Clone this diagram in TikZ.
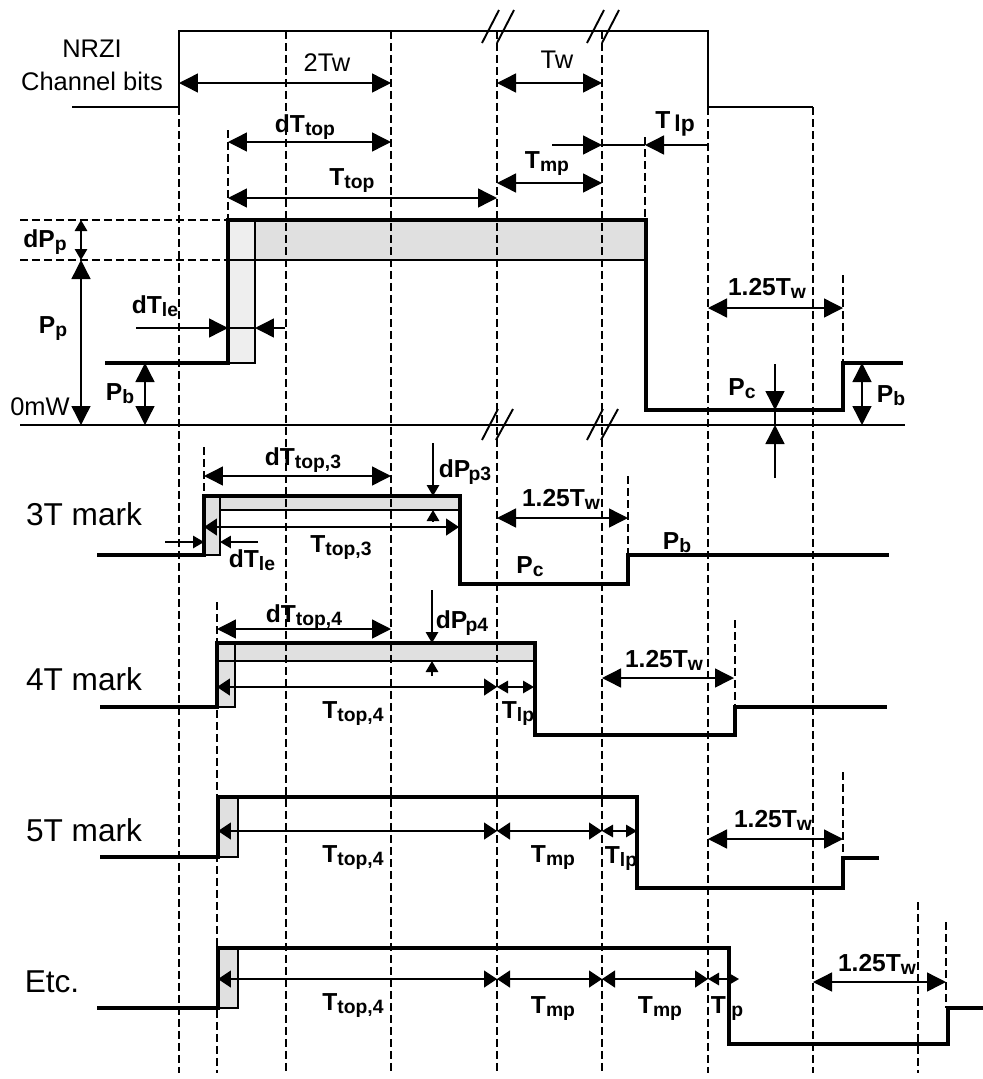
\documentclass[tikz,border=0pt]{standalone}
\usepackage{fontspec}
\setmainfont{Liberation Sans}
\usetikzlibrary{arrows.meta}
\definecolor{stripdark}{HTML}{E0E0E0}
\definecolor{striplight}{HTML}{EEEEEE}
\newcommand{\ts}[2]{#1\raisebox{-0.3ex}{\fontsize{11}{11}\selectfont #2}}

\begin{document}
\begin{tikzpicture}[x=0.02cm,y=-0.02cm,
  BT/.tip={Triangle[length=3.8mm,width=3.8mm]},
  MT/.tip={Triangle[length=2.6mm,width=3.4mm]},
  ST/.tip={Triangle[length=2.2mm,width=2.5mm]},
  grid/.style={dash pattern=on 0.16cm off 0.08cm,line width=0.7pt},
  pow/.style={line width=2.6pt},
  wave/.style={line width=2.1pt},
  thin/.style={line width=0.8pt},
  dimB/.style={thin,arrows={BT-BT}},
  dimM/.style={thin,arrows={MT-MT}},
  dimS/.style={thin,arrows={ST-ST}},
  toB/.style={thin,arrows={-BT}},
  toS/.style={thin,arrows={-ST}},
  brk/.style={line width=1.1pt},
  lbl/.style={font=\bfseries\fontsize{14}{14}\selectfont,inner sep=0pt,anchor=base},
  txt/.style={font=\fontsize{14.5}{14.5}\selectfont,inner sep=0pt,anchor=base},
  rowlbl/.style={font=\fontsize{18}{18}\selectfont,inner sep=0pt,anchor=base}]
\useasboundingbox (0,0) rectangle (983,1079);

% gray strips
\draw[thin,fill=striplight] (228,220) rectangle (255,363);
\draw[thin,fill=stripdark] (255,220) rectangle (646,260);
\draw[thin,fill=stripdark] (204,496) rectangle (220,555);
\draw[thin,fill=stripdark] (220,496) rectangle (460,510);
\draw[thin,fill=stripdark] (217,643) rectangle (235,707);
\draw[thin,fill=stripdark] (235,643) rectangle (535,661);
\draw[thin] (217,661) -- (235,661);
\draw[thin,fill=stripdark] (218,797) rectangle (238,857);
\draw[thin,fill=stripdark] (218,948) rectangle (238,1008);

% time grid
\foreach \x/\y in {179/107,286/31,391/31,497/31,602/31,708/107,813/107}
  \draw[grid] (\x,\y) -- (\x,1073);
\draw[grid] (228,130) -- (228,220);
\draw[grid] (645,137) -- (645,220);
\draw[grid] (843,275) -- (843,363);
\draw[grid] (204,447) -- (204,496);
\draw[grid] (628,476) -- (628,555);
\draw[grid] (217,602) -- (217,1073);
\draw[grid] (735,620) -- (735,707);
\draw[grid] (843,772) -- (843,858);
\draw[grid] (918,902) -- (918,1073);
\draw[grid] (946,922) -- (946,1008);
\draw[grid] (20,220) -- (228,220);
\draw[grid] (20,260) -- (228,260);

% NRZI and power levels
\draw[line width=1.3pt] (72,107) -- (179,107) -- (179,31) -- (708,31) -- (708,107) -- (813,107);
\draw[line width=1.3pt] (20,425) -- (905,425);
\draw[pow] (105,363) -- (228,363) -- (228,220) -- (646,220) -- (646,410) -- (843,410) -- (843,363) -- (903,363);
\draw[thin] (228,260) -- (255,260);

% break marks
\foreach \x in {497,602} {
  \draw[brk] (\x-15,43) -- (\x+2,10);
  \draw[brk] (\x,43) -- (\x+17,10);
  \draw[brk] (\x-15,440) -- (\x+1,409);
  \draw[brk] (\x-1,440) -- (\x+16,409);
}

% marks
\draw[wave] (97,555) -- (204,555) -- (204,496) -- (460,496) -- (460,584) -- (628,584) -- (628,555) -- (889,555);
\draw[wave] (100,707) -- (217,707) -- (217,643) -- (535,643) -- (535,735) -- (735,735) -- (735,707) -- (887,707);
\draw[wave] (100,857) -- (218,857) -- (218,797) -- (637,797) -- (637,888) -- (843,888) -- (843,858) -- (879,858);
\draw[wave] (97,1008) -- (218,1008) -- (218,948) -- (729,948) -- (729,1044) -- (948,1044) -- (948,1008) -- (983,1008);

% top dimensions
\draw[dimB] (179,83) -- (391,83);
\draw[dimB] (497,83) -- (602,83);
\draw[dimB] (228,142) -- (391,142);
\draw[dimB] (228,198) -- (497,198);
\draw[dimB] (497,183) -- (602,183);
\draw[toB] (552,145) -- (602,145);
\draw[thin] (602,145) -- (645,145);
\draw[toB] (708,145) -- (645,145);
\draw[dimS] (81,220) -- (81,260);
\draw[dimB] (81,260) -- (81,425);
\draw[dimB] (145,363) -- (145,425);
\draw[toB] (136,328) -- (228,328);
\draw[thin] (228,328) -- (255,328);
\draw[toB] (285,328) -- (255,328);
\draw[dimB] (708,308) -- (843,308);
\draw[toB] (775,364) -- (775,410);
\draw[thin] (775,410) -- (775,425);
\draw[toB] (775,478) -- (775,425);
\draw[dimB] (862,363) -- (862,425);

% 3T
\draw[dimB] (204,476) -- (391,476);
\draw[toS] (433,443) -- (433,496);
\draw[toS] (433,521) -- (433,510);
\draw[dimM] (204,527) -- (459,527);
\draw[toS] (165,542) -- (204,542);
\draw[toS] (258,542) -- (220,542);
\draw[dimB] (497,518) -- (628,518);

% 4T
\draw[dimB] (217,629) -- (391,629);
\draw[toS] (432,590) -- (432,643);
\draw[toS] (432,676) -- (432,661);
\draw[dimM] (217,687) -- (497,687);
\draw[dimS] (497,687) -- (534,687);
\draw[dimB] (602,678) -- (734,678);

% 5T
\draw[dimM] (218,831) -- (497,831);
\draw[dimM] (497,831) -- (602,831);
\draw[dimS] (602,831) -- (637,831);
\draw[dimB] (708,839) -- (843,839);

% Etc
\draw[dimM] (218,979) -- (497,979);
\draw[dimM] (497,979) -- (602,979);
\draw[dimM] (602,979) -- (708,979);
\draw[dimS] (708,979) -- (739,979);
\draw[dimB] (813,982) -- (946,982);

% labels
\node[txt] (nrzi) at (92,57) {NRZI};
\node[txt] (chbits) at (92,90) {Channel bits};
\node[txt] (twotw) at (327,71) {2Tw};
\node[txt] (tw) at (557,68) {Tw};
\node[lbl] (dttop) at (305,132) {\ts{dT}{top}};
\node[lbl] (ttop) at (352,185) {\ts{T}{top}};
\node[lbl] (tlp) at (675,128) {T\,\raisebox{-0.3ex}{\fontsize{13}{13}\selectfont lp}};
\node[lbl] (tmp) at (547,168) {\ts{T}{mp}};
\node[lbl] (dpp) at (45,247) {\ts{dP}{p}};
\node[lbl] (pp) at (53,333) {\ts{P}{p}};
\node[txt] (zero) at (40,415) {0mW};
\node[lbl] (pbl) at (120,400) {\ts{P}{b}};
\node[lbl] (dtle) at (155,313) {\ts{dT}{le}};
\node[lbl] (twa) at (767,295) {\ts{1.25T}{w}};
\node[lbl] (pc) at (742,395) {\ts{P}{c}};
\node[lbl] (pbr) at (891,402) {\ts{P}{b}};

\node[rowlbl] (three) at (84,525) {3T mark};
\node[lbl] (dtthree) at (303,465) {\ts{dT}{top,3}};
\node[lbl] (dpthree) at (465,477) {\ts{dP\kern-1pt}{p3}};
\node[lbl] (ttthree) at (341,552) {\ts{T}{top,3}};
\node[lbl] (dlethree) at (252,567) {\ts{dT}{le}};
\node[lbl] (twthree) at (561,506) {\ts{1.25T}{w}};
\node[lbl] (pcthree) at (530,573) {\ts{P}{c}};
\node[lbl] (pbthree) at (677,549) {\ts{P}{b}};

\node[rowlbl] (four) at (84,690) {4T mark};
\node[lbl] (dtfour) at (304,622) {\ts{dT}{top,4}};
\node[lbl] (dpfour) at (462,628) {\ts{dP\kern-1pt}{p4}};
\node[lbl] (ttfour) at (353,718) {\ts{T}{top,4}};
\node[lbl] (tlpfour) at (518,718) {\ts{T}{lp}};
\node[lbl] (twfour) at (664,667) {\ts{1.25T}{w}};

\node[rowlbl] (five) at (84,841) {5T mark};
\node[lbl] (ttfive) at (353,862) {\ts{T}{top,4}};
\node[lbl] (tmpfive) at (553,862) {\ts{T}{mp}};
\node[lbl] (tlpfive) at (621,863) {\ts{T}{lp}};
\node[lbl] (twfive) at (773,827) {\ts{1.25T}{w}};

\node[rowlbl] (etc) at (52,992) {Etc.};
\node[lbl] (ttetc) at (353,1010) {\ts{T}{top,4}};
\node[lbl] (tmpetc) at (553,1013) {\ts{T}{mp}};
\node[lbl] (tmpetcb) at (660,1013) {\ts{T}{mp}};
\node[lbl] (tlpetc) at (727,1013) {\ts{T}{lp}};
\node[lbl] (twetc) at (877,971) {\ts{1.25T}{w}};
\end{tikzpicture}
\end{document}
